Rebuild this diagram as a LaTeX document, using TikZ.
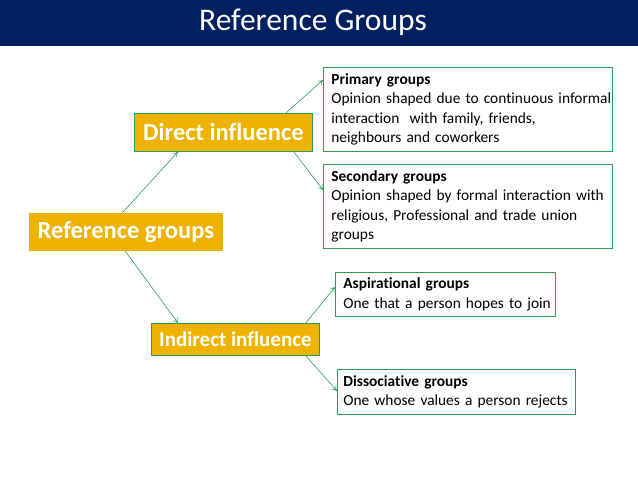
\documentclass[tikz,border=0pt]{standalone}
\usepackage{fontspec}
\setmainfont{Carlito}[Ligatures=NoCommon]
\usetikzlibrary{arrows.meta}
\definecolor{navy}{HTML}{002060}
\definecolor{gold}{HTML}{EEB300}
\definecolor{grn}{HTML}{2E9A5A}
\tikzset{
  goldbox/.style={fill=gold, draw=grn, line width=0.8pt, text=white, font=\bfseries, inner sep=0pt, anchor=north west},
  descbox/.style={draw=grn, line width=0.8pt, fill=white, anchor=north west, inner ysep=0pt, align=left, font=\fontsize{15.4}{19.3}\selectfont},
  conn/.style={draw=grn, line width=0.6pt, -{To[length=5pt,width=6pt]}}
}
\begin{document}
\begin{tikzpicture}[x=1pt,y=-1pt]
\useasboundingbox (0,0) rectangle (638,479);
\fill[white] (0,0) rectangle (638,479);
\fill[navy] (0,0) rectangle (638,46);
\node[text=white, font=\fontsize{31.5}{34}\selectfont] (title) at (313,22) {Reference Groups};

\node[goldbox, draw=gold, minimum width=193pt, minimum height=37pt, font=\bfseries\fontsize{24.5}{26}\selectfont] (ref) at (29,213) {Reference groups};
\node[goldbox, minimum width=178pt, minimum height=38pt, font=\bfseries\fontsize{24.5}{26}\selectfont] (dir) at (134,113) {Direct influence};
\node[goldbox, minimum width=168pt, minimum height=32pt, font=\bfseries\fontsize{21}{24}\selectfont] (ind) at (151,323) {Indirect influence};

\node[descbox, inner xsep=8pt, text width=273pt, minimum height=84pt] (prim) at (323,67) {\mbox{\textbf{Primary groups}}\\\mbox{Opinion shaped due to continuous informal}\\\mbox{interaction\ \ with family, friends,}\\\mbox{neighbours and coworkers}};
\node[descbox, inner xsep=8pt, text width=273pt, minimum height=84pt] (sec) at (323,164) {\mbox{\textbf{Secondary groups}}\\\mbox{Opinion shaped by formal interaction with}\\\mbox{religious, Professional and trade union}\\\mbox{groups}};
\node[descbox, inner xsep=8pt, text width=204pt, minimum height=44pt] (asp) at (335,272) {\mbox{\textbf{Aspirational groups}}\\\mbox{One that a person hopes to join}};
\node[descbox, inner xsep=6pt, text width=226pt, minimum height=45pt] (dis) at (337,369) {\mbox{\textbf{Dissociative groups}}\\\mbox{One whose values a person rejects}};

\draw[conn] ([xshift=93pt]ref.north west) -- ([xshift=44pt]dir.south west);
\draw[conn] ([xshift=96pt]ref.south west) -- ([xshift=27pt]ind.north west);
\draw[conn] ([xshift=-27pt]dir.north east) -- ([yshift=-13pt]prim.north west);
\draw[conn] ([xshift=-19pt]dir.south east) -- ([yshift=-26pt]sec.north west);
\draw[conn] ([xshift=-14pt]ind.north east) -- ([yshift=-15pt]asp.north west);
\draw[conn] ([xshift=-14pt]ind.south east) -- ([yshift=-22pt]dis.north west);
\end{tikzpicture}
\end{document}
